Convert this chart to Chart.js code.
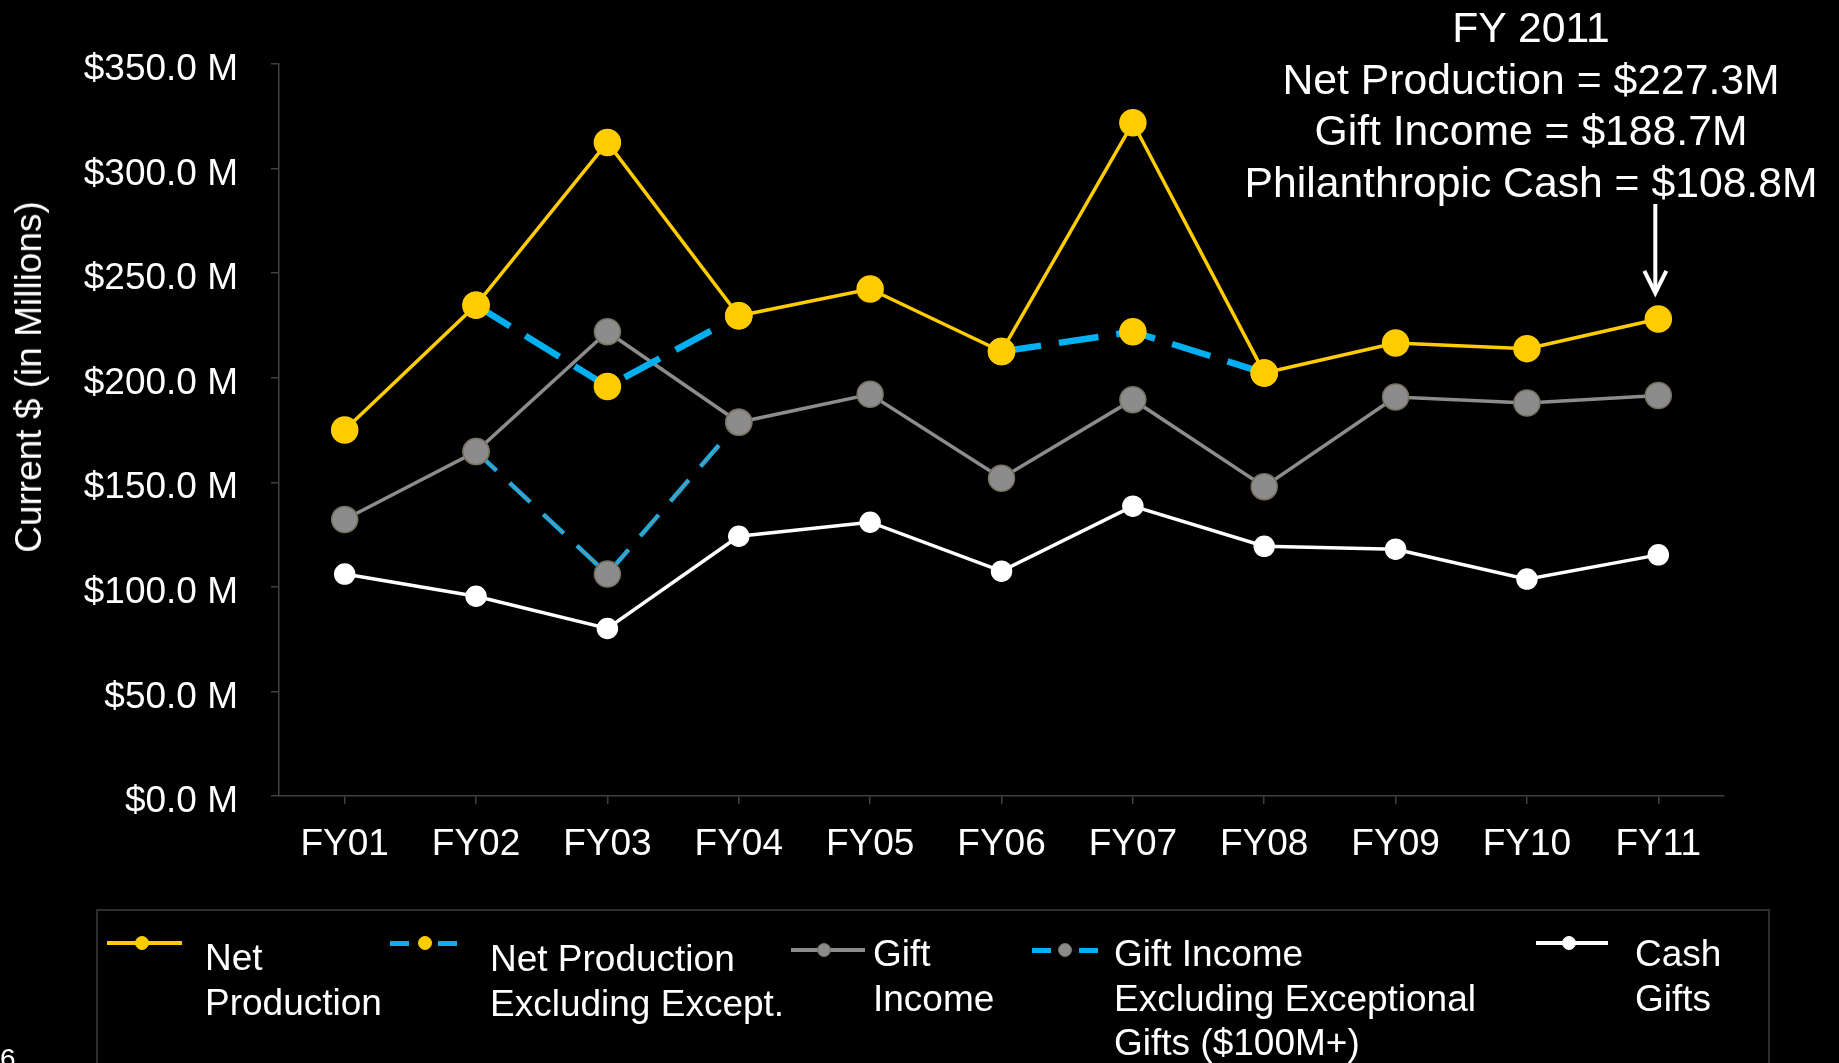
<!DOCTYPE html>
<html><head><meta charset="utf-8">
<script src="https://cdn.jsdelivr.net/npm/chart.js@4.4.1/dist/chart.umd.min.js"></script>
<style>
html,body{margin:0;padding:0;background:#000;width:1839px;height:1063px;overflow:hidden;font-family:"Liberation Sans",Arial,sans-serif;color:#fff}
#wrap{position:absolute;left:0;top:0;width:1839px;height:1063px}
canvas{position:absolute;left:0;top:0}
.abs{position:absolute;white-space:nowrap}
#legendBox{position:absolute;left:96px;top:909px;width:1674px;height:200px;border:2px solid #2e2e2e;box-sizing:border-box}
.ltxt{position:absolute;font-size:37px;line-height:44.5px;white-space:nowrap}
</style></head><body>
<div id="wrap"><canvas id="c" width="1839" height="1063"></canvas></div>
<div id="ytitle" class="abs"></div>
<div id="callout" class="abs"></div>
<div id="legendBox"></div>
<div id="legend"></div>
<div id="pagenum" class="abs" style="left:0;top:1045px;font-size:28px;line-height:28px">6</div>
<script>
// ---- data ----
const categories = ['FY01','FY02','FY03','FY04','FY05','FY06','FY07','FY08','FY09','FY10','FY11'];
const netProduction     = [175.0, 234.7, 312.5, 229.6, 242.4, 212.5, 321.9, 202.3, 216.6, 213.9, 228.1];
const netProductionExcl = [null,  234.7, 195.8, 229.6, null,  212.5, 222.0, 202.3, null,  null,  null];
const giftIncome        = [132.2, 164.7, 222.0, 178.7, 192.1, 151.9, 189.5, 147.9, 190.8, 187.9, 191.5];
const giftIncomeExcl    = [null,  164.7, 106.1, 178.7, null,  null,  null,  null,  null,  null,  null];
const cashGifts         = [106.1, 95.5,  80.1,  124.2, 130.9, 107.5, 138.6, 119.4, 118.0, 103.7, 115.3];
const yTickValues = [0, 50, 100, 150, 200, 250, 300, 350];
const yTickLabels = ['$0.0 M','$50.0 M','$100.0 M','$150.0 M','$200.0 M','$250.0 M','$300.0 M','$350.0 M'];
const yAxisTitle = 'Current $ (in Millions)';
const seriesNames = ['Net Production','Net Production Excluding Except.','Gift Income','Gift Income Excluding Exceptional Gifts ($100M+)','Cash Gifts'];
const legendLines = [['Net','Production'],['Net Production','Excluding Except.'],['Gift','Income'],['Gift Income','Excluding Exceptional','Gifts ($100M+)'],['Cash','Gifts']];
const calloutLines = ['FY 2011','Net Production = $227.3M','Gift Income = $188.7M','Philanthropic Cash = $108.8M'];

const YELLOW = '#FFCC00', BLUE = '#00B0F0', GRAY = '#8C8C8C', GRAYB = '#77725f', WHITE = '#FFFFFF', AXIS = '#404040';
const FONT = '"Liberation Sans", Arial, sans-serif';

// text overlays
const yt = document.getElementById('ytitle');
yt.textContent = yAxisTitle;
yt.style.cssText += 'font-size:37px;line-height:44px;left:29px;top:377px;transform:translate(-50%,-50%) rotate(-90deg);';
const co = document.getElementById('callout');
co.innerHTML = calloutLines.map(s => '<div>' + s.replace(/\$/g,'&#36;') + '</div>').join('');
co.style.cssText += 'font-size:42.7px;line-height:51.7px;left:1531px;top:2px;transform:translateX(-50%);text-align:center;';

const arrowPlugin = {
  id: 'arrow',
  afterDatasetsDraw(chart) {
    const ctx = chart.ctx, x = chart.scales.x.getPixelForValue(10);
    const tip = chart.scales.y.getPixelForValue(netProduction[10]) - 26;
    ctx.save();
    ctx.strokeStyle = WHITE; ctx.lineWidth = 4; ctx.lineCap = 'butt';
    ctx.beginPath(); ctx.moveTo(x - 3, 204); ctx.lineTo(x - 3, tip - 2); ctx.stroke();
    ctx.beginPath(); ctx.moveTo(x - 14, tip - 22); ctx.lineTo(x - 3, tip); ctx.lineTo(x + 8, tip - 22); ctx.stroke();
    ctx.restore();
  }
};

const common = { pointBorderWidth: 1.5, tension: 0, spanGaps: false };
new Chart(document.getElementById('c'), {
  type: 'line',
  data: {
    labels: categories,
    datasets: [
      Object.assign({ label: seriesNames[0], data: netProduction, order: 1, borderColor: YELLOW, borderWidth: 3.5,
        pointRadius: 13, pointBackgroundColor: YELLOW, pointBorderColor: YELLOW }, common),
      Object.assign({ label: seriesNames[1], data: netProductionExcl, order: 2, borderColor: BLUE, borderWidth: 6.5, borderDash: [40, 18],
        pointRadius: 13, pointBackgroundColor: YELLOW, pointBorderColor: YELLOW }, common),
      Object.assign({ label: seriesNames[2], data: giftIncome, order: 3, borderColor: GRAY, borderWidth: 3.5,
        pointRadius: 13, pointBackgroundColor: GRAY, pointBorderColor: GRAYB }, common),
      Object.assign({ label: seriesNames[3] + ' ', data: giftIncomeExcl, order: 3.5, borderColor: GRAY, borderWidth: 1.2, borderDash: [28, 18],
        pointRadius: 0 }, common),
      Object.assign({ label: seriesNames[3], data: giftIncomeExcl, order: 4, borderColor: BLUE, borderWidth: 4.5, borderDash: [28, 18],
        pointRadius: 13, pointBackgroundColor: GRAY, pointBorderColor: GRAYB }, common),
      Object.assign({ label: seriesNames[4], data: cashGifts, order: 5, borderColor: WHITE, borderWidth: 3.5,
        pointRadius: 10, pointBackgroundColor: WHITE, pointBorderColor: WHITE }, common)
    ]
  },
  options: {
    responsive: false, animation: false, devicePixelRatio: 1,
    layout: { padding: { left: 0, top: 64, right: 115, bottom: 187 } },
    plugins: { legend: { display: false }, tooltip: { enabled: false } },
    scales: {
      x: {
        offset: true,
        grid: { display: true, drawOnChartArea: false, drawTicks: true, tickLength: 8, color: AXIS, lineWidth: 1.5 },
        border: { display: true, color: AXIS, width: 1.5 },
        ticks: { color: WHITE, font: { family: FONT, size: 37 }, padding: 19, maxRotation: 0, autoSkip: false },
        afterFit(s) { s.height = 80; }
      },
      y: {
        min: 0, max: 350,
        afterBuildTicks(s) { s.ticks = yTickValues.map(v => ({ value: v })); },
        grid: { display: true, drawOnChartArea: false, drawTicks: true, tickLength: 8, color: AXIS, lineWidth: 1.5 },
        border: { display: true, color: AXIS, width: 1.5 },
        ticks: { color: WHITE, font: { family: FONT, size: 37 }, padding: 33, labelOffset: 6,
          callback: (v) => yTickLabels[yTickValues.indexOf(v)] },
        afterFit(s) { s.width = 279; }
      }
    }
  },
  plugins: [arrowPlugin]
});

// legend (HTML)
const legendSpecs = [
  { kind: 'line', color: YELLOW, mk: YELLOW, mkb: YELLOW, x0: 107, x1: 182, cx: 142, y: 943, tx: 205, ty: 936 },
  { kind: 'dash', color: BLUE, mk: YELLOW, mkb: YELLOW, x0: 390, x1: 457, cx: 425, y: 943, tx: 490, ty: 937 },
  { kind: 'line', color: GRAY, mk: GRAY, mkb: GRAYB, x0: 791, x1: 865, cx: 824, y: 950, tx: 873, ty: 932 },
  { kind: 'dash', color: BLUE, mk: GRAY, mkb: GRAYB, x0: 1032, x1: 1098, cx: 1065, y: 950, tx: 1114, ty: 932 },
  { kind: 'line', color: WHITE, mk: WHITE, mkb: WHITE, x0: 1536, x1: 1608, cx: 1569, y: 943, tx: 1635, ty: 932 }
];
const lg = document.getElementById('legend');
let html = '';
legendSpecs.forEach((s, i) => {
  if (s.kind === 'line') {
    html += `<div class="abs" style="left:${s.x0}px;top:${s.y-2}px;width:${s.x1-s.x0}px;height:4px;background:${s.color}"></div>`;
  } else {
    html += `<div class="abs" style="left:${s.x0}px;top:${s.y-2.5}px;width:19px;height:5px;background:${s.color}"></div>`;
    html += `<div class="abs" style="left:${s.x1-19}px;top:${s.y-2.5}px;width:19px;height:5px;background:${s.color}"></div>`;
  }
  html += `<div class="abs" style="left:${s.cx-7}px;top:${s.y-7}px;width:12px;height:12px;border-radius:50%;background:${s.mk};border:1px solid ${s.mkb}"></div>`;
  html += `<div class="ltxt" style="left:${s.tx}px;top:${s.ty}px">${legendLines[i].map(t => t.replace(/\$/g,'&#36;')).join('<br>')}</div>`;
});
lg.innerHTML = html;
</script>
</body></html>
